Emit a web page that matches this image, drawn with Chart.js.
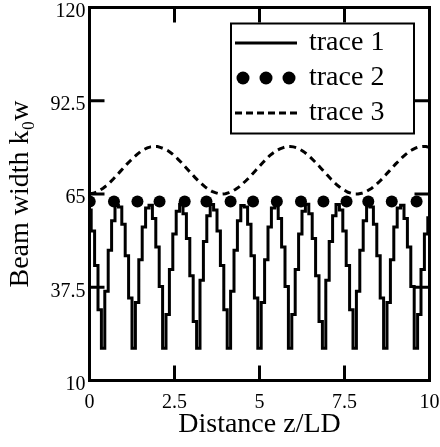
<!DOCTYPE html>
<html><head><meta charset="utf-8">
<script src="https://cdn.jsdelivr.net/npm/chart.js@4.4.1/dist/chart.umd.min.js"></script>
<style>html,body{margin:0;padding:0;background:#fff;overflow:hidden}</style>
</head><body>
<canvas id="c" width="440" height="447" style="display:block;width:440px;height:447px"></canvas>
<script>
// ---- data ----
const zGrid = [0,0.1,0.2,0.3,0.4,0.5,0.6,0.7,0.8,0.9,1,1.1,1.2,1.3,1.4,1.5,1.6,1.7,1.8,1.9,2,2.1,2.2,2.3,2.4,2.5,2.6,2.7,2.8,2.9,3,3.1,3.2,3.3,3.4,3.5,3.6,3.7,3.8,3.9,4,4.1,4.2,4.3,4.4,4.5,4.6,4.7,4.8,4.9,5,5.1,5.2,5.3,5.4,5.5,5.6,5.7,5.8,5.9,6,6.1,6.2,6.3,6.4,6.5,6.6,6.7,6.8,6.9,7,7.1,7.2,7.3,7.4,7.5,7.6,7.7,7.8,7.9,8,8.1,8.2,8.3,8.4,8.5,8.6,8.7,8.8,8.9,9,9.1,9.2,9.3,9.4,9.5,9.6,9.7,9.8,9.9,10];
const trace1 = [60.3,54.1,43.9,30.9,19.5,36.3,48.4,57.1,61.6,61.2,56.1,46.8,34.3,19.5,33.0,45.6,55.3,60.9,61.7,57.8,49.4,37.7,19.5,29.5,42.7,53.2,59.9,62.0,59.2,51.9,40.9,27.4,19.5,39.6,51.0,58.6,61.9,60.3,54.1,43.9,30.9,19.5,36.3,48.4,57.1,61.6,61.2,56.1,46.8,34.3,19.5,33.0,45.6,55.3,60.9,61.7,57.8,49.4,37.7,19.5,29.5,42.7,53.2,59.9,62.0,59.2,51.9,40.9,27.4,19.5,39.6,51.0,58.6,61.9,60.3,54.1,43.9,30.9,19.5,36.3,48.4,57.1,61.6,61.2,56.1,46.8,34.3,19.5,33.0,45.6,55.3,60.9,61.7,57.8,49.4,37.7,19.5,29.5,42.7,53.2,58.0];
const trace3 = [65.0,65.2,65.5,66.1,66.7,67.5,68.4,69.4,70.5,71.6,72.7,73.8,74.8,75.8,76.7,77.5,78.1,78.6,78.9,79.0,79.0,78.7,78.3,77.8,77.1,76.3,75.3,74.3,73.2,72.1,71.0,69.9,68.9,68.0,67.1,66.4,65.8,65.4,65.1,65.0,65.1,65.4,65.8,66.4,67.1,68.0,68.9,69.9,71.0,72.1,73.2,74.3,75.3,76.3,77.1,77.8,78.3,78.7,79.0,79.0,78.9,78.6,78.1,77.5,76.7,75.8,74.8,73.8,72.7,71.6,70.5,69.4,68.4,67.5,66.7,66.1,65.5,65.2,65.0,65.0,65.2,65.5,66.1,66.7,67.5,68.4,69.4,70.5,71.6,72.7,73.8,74.8,75.8,76.7,77.5,78.1,78.6,78.9,79.0,79.0,78.7];
const zDots = [0.006,0.72,1.41,2.06,2.8,3.44,4.15,4.81,5.51,6.22,6.88,7.56,8.2,8.89,9.62];
const trace2 = [62.8,62.8,62.8,62.8,62.8,62.8,62.8,62.8,62.8,62.8,62.8,62.8,62.8,62.8,62.8];
const seriesNames = ['trace 1','trace 2','trace 3'];
const xTicks = [0,2.5,5,7.5,10];
const xTickLabels = ['0','2.5','5','7.5','10'];
const yTicks = [10,37.5,65,92.5,120];
const yTickLabels = ['10','37.5','65','92.5','120'];
const xTitle = 'Distance z/LD';
const yTitle = 'Beam width k\u2080w';

// ---- styling ----
const FONT = "'Liberation Serif','Times New Roman',serif";
Chart.defaults.font.family = FONT;
Chart.defaults.color = '#000';

function legendSample(kind){
  const cv = document.createElement('canvas');
  cv.width = 62; cv.height = 16;
  const g = cv.getContext('2d');
  g.fillStyle = '#000'; g.strokeStyle = '#000';
  if (kind === 'solid') {
    g.lineWidth = 3; g.beginPath(); g.moveTo(0, 8); g.lineTo(62, 8); g.stroke();
  } else if (kind === 'dots') {
    [8, 31, 54].forEach(cx => { g.beginPath(); g.arc(cx, 8, 6.5, 0, Math.PI*2); g.fill(); });
  } else {
    g.lineWidth = 3; g.setLineDash([7,4]); g.beginPath(); g.moveTo(0, 8); g.lineTo(62, 8); g.stroke();
  }
  return cv;
}
const legendImgs = [legendSample('solid'), legendSample('dots'), legendSample('dash')];

const framePlugin = {
  id: 'frame',
  afterLayout(chart) {
    const lg = chart.legend;
    if (!lg) return;
    const h = lg.height, w = lg.width;
    lg.left = 230; lg.top = 22; lg.right = 230 + w; lg.bottom = 22 + h;
  },
  afterDraw(chart) {
    const {ctx, chartArea: a, scales: {x, y}} = chart;
    ctx.save();
    ctx.strokeStyle = '#000';
    ctx.lineWidth = 3;
    ctx.strokeRect(a.left, a.top, a.right - a.left, a.bottom - a.top);
    ctx.beginPath();
    xTicks.forEach(v => {
      const px = x.getPixelForValue(v);
      ctx.moveTo(px, a.bottom); ctx.lineTo(px, a.bottom - 15);
      ctx.moveTo(px, a.top); ctx.lineTo(px, a.top + 15);
    });
    yTicks.forEach(v => {
      const py = y.getPixelForValue(v);
      ctx.moveTo(a.left, py); ctx.lineTo(a.left + 15, py);
      ctx.moveTo(a.right, py); ctx.lineTo(a.right - 15, py);
    });
    ctx.stroke();
    const lg = chart.legend;
    ctx.lineWidth = 2;
    ctx.strokeRect(lg.left + 1, lg.top + 1.5, 183, 110);
    ctx.restore();
  }
};

new Chart(document.getElementById('c'), {
  type: 'line',
  data: {
    datasets: [
      { label: seriesNames[0], data: zGrid.map((z, i) => ({x: z, y: trace1[i]})),
        borderColor: '#000', borderWidth: 3, pointRadius: 0, stepped: 'middle', fill: false },
      { label: seriesNames[1], data: zDots.map((z, i) => ({x: z, y: trace2[i]})),
        showLine: false, pointRadius: 6, pointStyle: 'circle', pointBackgroundColor: '#000',
        pointBorderWidth: 0, borderColor: '#000', backgroundColor: '#000', clip: 0 },
      { label: seriesNames[2], data: zGrid.map((z, i) => ({x: z, y: trace3[i]})),
        borderColor: '#000', borderWidth: 3, borderDash: [7,5], pointRadius: 0, fill: false, tension: 0 }
    ]
  },
  options: {
    responsive: false,
    devicePixelRatio: 1,
    animation: false,
    layout: { padding: { left: 0, top: 7.5, right: 10.5, bottom: 0 } },
    scales: {
      x: {
        type: 'linear', min: 0, max: 10,
        grid: { display: false, drawTicks: false }, border: { display: false },
        afterBuildTicks: s => { s.ticks = xTicks.map(v => ({value: v})); },
        afterFit: s => { s.height = 66.5; s.paddingLeft = 0; s.paddingRight = 0; },
        ticks: { padding: 10, maxRotation: 0, autoSkip: false, font: { size: 20, family: FONT }, color: '#000',
                 callback: (v) => xTickLabels[xTicks.indexOf(v)] },
        title: { display: true, text: xTitle, font: { size: 28, family: FONT }, color: '#000', padding: { top: 0, bottom: 6 } }
      },
      y: {
        type: 'linear', min: 10, max: 120,
        grid: { display: false, drawTicks: false }, border: { display: false },
        afterBuildTicks: s => { s.ticks = yTicks.map(v => ({value: v})); },
        afterFit: s => { s.width = 89.5; s.paddingTop = 0; s.paddingBottom = 0; },
        ticks: { padding: 4, labelOffset: 4, autoSkip: false, font: { size: 20, family: FONT }, color: '#000',
                 callback: (v) => yTickLabels[yTicks.indexOf(v)] },
        title: { display: true, text: yTitle, font: { size: 28, family: FONT }, color: '#000', padding: { top: 4, bottom: 0 } }
      }
    },
    plugins: {
      tooltip: { enabled: false },
      legend: {
        display: true, position: 'chartArea', align: 'start',
        labels: {
          usePointStyle: true, pointStyleWidth: 58, padding: 7,
          font: { size: 28, family: FONT }, color: '#000',
          generateLabels(chart) {
            const items = Chart.defaults.plugins.legend.labels.generateLabels(chart);
            items.forEach((it, i) => { it.pointStyle = legendImgs[i]; it.lineWidth = 0; });
            return items;
          }
        }
      }
    }
  },
  plugins: [framePlugin]
});
</script></body></html>
